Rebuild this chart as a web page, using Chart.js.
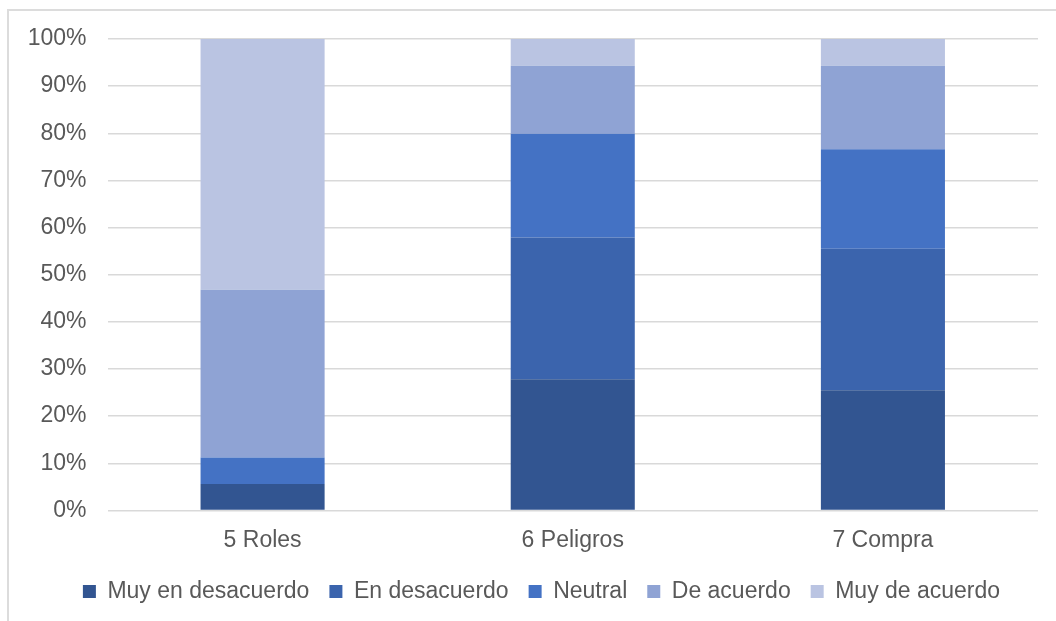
<!DOCTYPE html>
<html>
<head>
<meta charset="utf-8">
<script src="https://cdn.jsdelivr.net/npm/chart.js@4/dist/chart.umd.min.js"></script>
<style>
  html, body { margin: 0; padding: 0; background: #fff; }
  #wrap { position: relative; width: 1056px; height: 621px; overflow: hidden; }
  #frame { position: absolute; left: 7px; top: 9px; width: 1200px; height: 800px; border: 2px solid #dcdcdc; }
  #chart { position: absolute; left: 0; top: 0; }
</style>
</head>
<body>
<div id="wrap">
  <div id="frame"></div>
  <canvas id="chart" width="1056" height="621"></canvas>
</div>
<script>
// preguntas y porcentajes por respuesta
const categories = ["5 Roles", "6 Peligros", "7 Compra"];
const muyDesacuerdo = [5.6, 27.8, 25.5];
const enDesacuerdo = [0, 30.1, 30.0];
const neutral = [5.6, 22.0, 21.1];
const deAcuerdo = [35.6, 14.4, 17.7];
const muyDeAcuerdo = [53.2, 5.7, 5.7];
const yTicks = [0, 10, 20, 30, 40, 50, 60, 70, 80, 90, 100];

const seriesNames = ["Muy en desacuerdo", "En desacuerdo", "Neutral", "De acuerdo", "Muy de acuerdo"];
const seriesData = [muyDesacuerdo, enDesacuerdo, neutral, deAcuerdo, muyDeAcuerdo];
const colors = ["#325591", "#3b64ad", "#4472c4", "#8fa3d4", "#bac4e2"];

const font = { family: "'Liberation Sans', Arial, sans-serif", size: 23 };
const textColor = "#595959";
const padLeft = 27;

// corre la leyenda un poco a la derecha
const legendShift = {
  id: "legendShift",
  afterLayout(chart) {
    chart.legend.left += 9;
    chart.legend.right += 9;
  }
};

const ctx = document.getElementById("chart").getContext("2d");
new Chart(ctx, {
  type: "bar",
  data: {
    labels: categories,
    datasets: seriesNames.map((name, i) => ({
      label: name,
      data: seriesData[i],
      backgroundColor: colors[i],
      borderWidth: 0,
      categoryPercentage: 1,
      barPercentage: 0.4
    }))
  },
  plugins: [legendShift],
  options: {
    responsive: false,
    animation: false,
    devicePixelRatio: 1,
    layout: { padding: { left: padLeft, right: 18, top: 39, bottom: 8 } },
    plugins: {
      tooltip: { enabled: false },
      legend: {
        position: "bottom",
        labels: {
          font: font,
          color: textColor,
          boxWidth: 13,
          boxHeight: 13,
          padding: 20
        }
      }
    },
    scales: {
      x: {
        stacked: true,
        grid: { display: false },
        border: { display: false },
        afterFit(scale) { scale.height = scale.height - 2; },
        ticks: { font: font, color: textColor, padding: 8 }
      },
      y: {
        stacked: true,
        min: 0,
        max: 100,
        afterFit(scale) { scale.width = 107.5 - padLeft; },
        afterBuildTicks(scale) { scale.ticks = yTicks.map(v => ({ value: v })); },
        grid: { color: "#d9d9d9", lineWidth: 1.5, drawTicks: false },
        border: { display: false },
        ticks: {
          font: font,
          color: textColor,
          padding: 21,
          callback: v => v + "%"
        }
      }
    }
  }
});
</script>
</body>
</html>
